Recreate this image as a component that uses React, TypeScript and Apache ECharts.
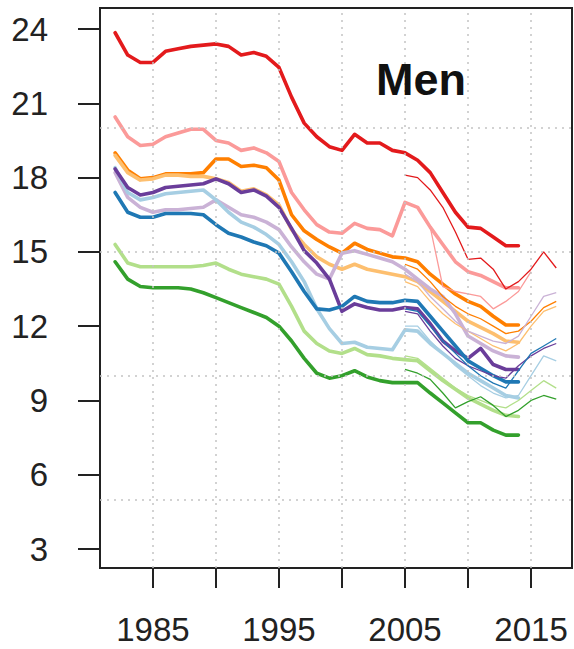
import React, { useEffect, useRef } from "react";
import * as echarts from "echarts";

// ---- Data ----
const yearsThick = [1982, 1983, 1984, 1985, 1986, 1987, 1988, 1989, 1990, 1991, 1992, 1993, 1994, 1995, 1996, 1997, 1998, 1999, 2000, 2001, 2002, 2003, 2004, 2005, 2006, 2007, 2008, 2009, 2010, 2011, 2012, 2013, 2014];
const yearsThin = [2005, 2006, 2007, 2008, 2009, 2010, 2011, 2012, 2013, 2014, 2015, 2016, 2017];

const redThick = [23.85, 22.95, 22.65, 22.65, 23.1, 23.2, 23.3, 23.35, 23.4, 23.3, 22.95, 23.05, 22.9, 22.45, 21.25, 20.2, 19.65, 19.25, 19.1, 19.75, 19.4, 19.4, 19.1, 19.0, 18.7, 18.2, 17.4, 16.6, 16.0, 15.95, 15.6, 15.25, 15.25];
const pinkThick = [20.45, 19.65, 19.3, 19.35, 19.65, 19.8, 19.95, 19.95, 19.5, 19.4, 19.1, 19.2, 19.0, 18.65, 17.4, 16.7, 16.1, 15.8, 15.75, 16.15, 15.95, 15.9, 15.65, 17.0, 16.8, 16.0, 15.3, 14.6, 14.2, 14.05, 13.8, 13.55, 13.55];
const orangeThick = [19.0, 18.3, 17.95, 18.0, 18.15, 18.15, 18.15, 18.2, 18.75, 18.75, 18.45, 18.5, 18.4, 17.9, 16.5, 15.85, 15.5, 15.2, 14.95, 15.35, 15.1, 14.95, 14.8, 14.75, 14.6, 14.1, 13.7, 13.3, 13.0, 12.8, 12.4, 12.05, 12.05];
const lightOrangeThick = [18.9, 18.2, 17.9, 17.95, 18.1, 18.1, 18.05, 18.05, 17.95, 17.8, 17.45, 17.55, 17.3, 16.9, 15.9, 15.3, 14.8, 14.5, 14.3, 14.5, 14.3, 14.2, 14.1, 14.0, 13.8, 13.4, 13.0, 12.6, 12.2, 11.95, 11.7, 11.4, 11.35];
const purpleThick = [18.35, 17.6, 17.3, 17.4, 17.6, 17.65, 17.7, 17.75, 17.95, 17.75, 17.4, 17.5, 17.25, 16.8, 15.95, 15.05, 14.55, 13.9, 12.6, 12.9, 12.75, 12.65, 12.65, 12.75, 12.7, 12.1, 11.4, 11.0, 10.7, 11.1, 10.45, 10.25, 10.25];
const lightPurpleThick = [18.2, 17.2, 16.8, 16.6, 16.7, 16.7, 16.75, 16.8, 17.1, 16.8, 16.5, 16.4, 16.2, 15.9, 15.2, 14.6, 14.1, 13.9, 14.95, 15.05, 14.9, 14.75, 14.6, 14.3, 13.9, 13.5, 13.2, 12.5, 11.6, 11.3, 11.0, 10.8, 10.75];
const blueThick = [17.4, 16.6, 16.4, 16.4, 16.55, 16.55, 16.55, 16.5, 16.1, 15.75, 15.6, 15.4, 15.25, 14.95, 14.2, 13.4, 12.7, 12.65, 12.8, 13.2, 13.0, 12.95, 12.95, 13.05, 13.0, 12.4, 11.8, 11.2, 10.6, 10.3, 10.0, 9.75, 9.75];
const lightBlueThick = [18.4, 17.4, 17.1, 17.2, 17.35, 17.4, 17.45, 17.5, 17.1, 16.6, 16.2, 16.0, 15.7, 15.3, 14.6, 13.8, 12.7, 11.9, 11.3, 11.35, 11.15, 11.1, 11.05, 11.85, 11.8, 11.3, 10.9, 10.5, 10.1, 9.8, 9.5, 9.2, 9.1];
const lightGreenThick = [15.3, 14.55, 14.4, 14.4, 14.4, 14.4, 14.4, 14.45, 14.55, 14.3, 14.1, 14.0, 13.9, 13.7, 12.8, 11.8, 11.3, 11.0, 10.9, 11.1, 10.85, 10.8, 10.7, 10.65, 10.6, 10.2, 9.8, 9.45, 9.1, 8.85, 8.6, 8.4, 8.35];
const greenThick = [14.6, 13.9, 13.6, 13.55, 13.55, 13.55, 13.5, 13.35, 13.15, 12.95, 12.75, 12.55, 12.35, 12.0, 11.4, 10.7, 10.1, 9.9, 10.0, 10.2, 9.95, 9.8, 9.72, 9.72, 9.72, 9.3, 8.9, 8.5, 8.1, 8.1, 7.8, 7.6, 7.6];

const redThin = [18.1, 18.0, 17.5, 16.8, 15.8, 14.7, 14.75, 14.3, 13.5, 13.8, 14.3, 15.0, 14.35];
const pinkThin = [17.0, 16.8, 16.0, 13.6, 13.4, 13.3, 13.2, 12.7, 13.0, 13.4, 14.2, null, null];
const orangeThin = [14.5, 14.3, 13.8, 13.2, 12.8, 12.5, 12.3, 12.0, 11.7, 11.8, 12.2, 12.75, 13.0];
const lightOrangeThin = [13.8, 13.6, 13.0, 12.5, 12.1, 11.8, 11.5, 11.2, 11.0, 11.3, 12.0, 12.6, 12.8];
const purpleThin = [12.6, 12.5, 11.8, 11.2, 10.7, 10.4, 10.2, 10.0, 9.9, 10.4, 10.8, 11.1, 11.3];
const lightPurpleThin = [14.1, 13.8, 13.2, 12.7, 12.2, 11.8, 11.6, 11.4, 11.3, 11.6, 12.4, 13.2, 13.35];
const blueThin = [12.7, 12.6, 12.0, 11.4, 10.9, 10.4, 10.0, 9.7, 9.5, 10.2, 10.9, 11.2, 11.5];
const lightBlueThin = [12.0, 12.0, 11.4, 10.9, 10.4, 10.0, 9.6, 9.3, 9.1, 9.2, 10.0, 10.8, 10.6];
const lightGreenThin = [10.8, 10.7, 10.3, 9.9, 9.5, 9.2, 9.0, 8.8, 8.7, 9.0, 9.4, 9.8, 9.5];
const greenThin = [10.25, 10.1, 9.85, 9.3, 8.7, 8.95, 9.15, 8.8, 8.35, 8.6, 9.0, 9.2, 9.05];

const xTickValues = [1985, 1990, 1995, 2000, 2005, 2010, 2015];
const xLabelValues = [1985, 1995, 2005, 2015];
const yTickValues = [3, 6, 9, 12, 15, 18, 21, 24];
const gridX = [1985, 1990, 1995, 2000, 2005, 2010, 2015];
const gridY = [5, 10, 15, 20];
const titleText = "Men";

const groups = [
  { name: "Red", color: "#E31A1C", thick: redThick, thin: redThin },
  { name: "Pink", color: "#FB9A99", thick: pinkThick, thin: pinkThin },
  { name: "Orange", color: "#FF7F00", thick: orangeThick, thin: orangeThin },
  { name: "Light orange", color: "#FDBF6F", thick: lightOrangeThick, thin: lightOrangeThin },
  { name: "Light purple", color: "#CAB2D6", thick: lightPurpleThick, thin: lightPurpleThin },
  { name: "Light blue", color: "#A6CEE3", thick: lightBlueThick, thin: lightBlueThin },
  { name: "Purple", color: "#6A3D9A", thick: purpleThick, thin: purpleThin },
  { name: "Blue", color: "#1F78B4", thick: blueThick, thin: blueThin },
  { name: "Light green", color: "#B2DF8A", thick: lightGreenThick, thin: lightGreenThin },
  { name: "Green", color: "#33A02C", thick: greenThick, thin: greenThin },
];

const FONT = '"Liberation Sans", Arial, Helvetica, sans-serif';
const INK = "#222222";

export default function App() {
  const ref = useRef<HTMLDivElement>(null);
  useEffect(() => {
    if (!ref.current) return;
    const chart = echarts.init(ref.current, undefined, { renderer: "svg" });
    const series: any[] = [];
    series.push({
      type: "line",
      name: "grid",
      data: [],
      silent: true,
      z: 1,
      markLine: {
        silent: true,
        symbol: "none",
        animation: false,
        label: { show: false },
        lineStyle: { type: [2, 5], color: "#c4c4c4", width: 1.5 },
        data: [
          ...gridX.map((v) => ({ xAxis: v })),
          ...gridY.map((v) => ({ yAxis: v })),
        ],
      },
    });
    groups.forEach((g) => {
      series.push({
        type: "line",
        name: g.name + " (1982-2014)",
        data: yearsThick.map((y, i) => [y, g.thick[i]]),
        showSymbol: false,
        symbol: "none",
        z: 2,
        lineStyle: { color: g.color, width: 3.6, join: "round", cap: "round" },
        itemStyle: { color: g.color },
      });
    });
    groups.forEach((g) => {
      series.push({
        type: "line",
        name: g.name + " (2005-2017)",
        data: yearsThin.map((y, i) => [y, g.thin[i]]),
        showSymbol: false,
        symbol: "none",
        connectNulls: false,
        z: 3,
        lineStyle: { color: g.color, width: 1.3 },
        itemStyle: { color: g.color },
      });
    });
    chart.setOption({
      animation: false,
      backgroundColor: "#ffffff",
      grid: {
        left: 100,
        top: 8,
        width: 472,
        height: 560,
        show: true,
        borderColor: INK,
        borderWidth: 2,
        backgroundColor: "transparent",
        containLabel: false,
        outerBoundsMode: "none",
      },
      xAxis: {
        type: "value",
        min: 1980.8,
        max: 2018.25,
        axisLine: { show: true, onZero: false, lineStyle: { color: INK, width: 2 } },
        axisTick: {
          show: true,
          customValues: xTickValues,
          length: 20,
          lineStyle: { color: INK, width: 2 },
        },
        axisLabel: {
          customValues: xLabelValues,
          formatter: (v: number) => String(v),
          fontSize: 33,
          fontFamily: FONT,
          color: INK,
          margin: 45,
        },
        splitLine: { show: false },
      },
      yAxis: {
        type: "value",
        min: 2.233,
        max: 24.85,
        axisLine: { show: true, onZero: false, lineStyle: { color: INK, width: 2 } },
        axisTick: {
          show: true,
          customValues: yTickValues,
          length: 22,
          lineStyle: { color: INK, width: 2 },
        },
        axisLabel: {
          customValues: yTickValues,
          formatter: (v: number) => String(v),
          fontSize: 33,
          fontFamily: FONT,
          color: INK,
          margin: 52,
          verticalAlign: "middle",
          padding: [7, 0, 0, 0],
        },
        splitLine: { show: false },
      },
      graphic: [
        {
          type: "text",
          x: 421,
          y: 79,
          z: 10,
          style: {
            text: titleText,
            font: `bold 45px ${FONT}`,
            fill: "#111111",
            align: "center",
            verticalAlign: "middle",
          },
        },
      ],
      series,
    });
    return () => chart.dispose();
  }, []);
  return (
    <div
      ref={ref}
      style={{ position: "absolute", left: 0, top: 0, width: 574, height: 649 }}
    />
  );
}
